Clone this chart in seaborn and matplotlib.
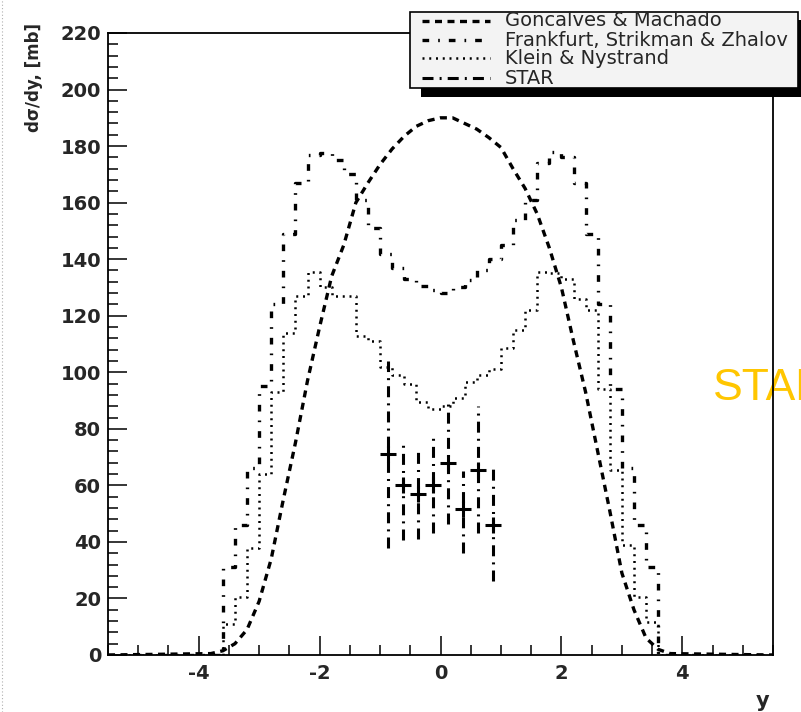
import matplotlib
matplotlib.use("Agg")
import matplotlib.pyplot as plt
from matplotlib.lines import Line2D
from matplotlib.patches import Rectangle
from matplotlib.ticker import MultipleLocator
import seaborn as sns

# --- donnees ---

# Goncalves & Machado (courbe)
gm_y = [-5.5, -3.8, -3.6, -3.4, -3.2, -3.0, -2.8, -2.6, -2.4, -2.2, -2.0, -1.8, -1.6, -1.4,
        -1.2, -1.0, -0.8, -0.6, -0.4, -0.2, 0.0, 0.2, 0.4, 0.6, 0.8, 1.0, 1.2, 1.4, 1.6,
        1.8, 2.0, 2.2, 2.4, 2.6, 2.8, 3.0, 3.2, 3.4, 3.6, 3.8, 5.5]
gm_val = [0, 0.5, 1.5, 4, 9, 19, 34, 55, 75, 97, 116, 134, 145, 160,
          167, 173.5, 179, 183.5, 187, 189, 190, 190, 188, 186, 183, 179.5, 172, 165, 156,
          144, 130, 111, 93, 72, 51, 29, 16, 6, 2, 0.5, 0]

# histogrammes (centres de bins de 0.2)
bins_y = [-5.5, -3.7, -3.5, -3.3, -3.1, -2.9, -2.7, -2.5, -2.3, -2.1, -1.9, -1.7, -1.5, -1.3,
          -1.1, -0.9, -0.7, -0.5, -0.3, -0.1, 0.1, 0.3, 0.5, 0.7, 0.9, 1.1, 1.3, 1.5, 1.7,
          1.9, 2.1, 2.3, 2.5, 2.7, 2.9, 3.1, 3.3, 3.5, 3.7, 5.5]

# Frankfurt, Strikman & Zhalov
fsz_val = [0, 0, 31, 46, 66, 95, 124, 149, 167, 177, 177.5, 175, 170, 161,
           151, 142, 137, 133, 130.5, 129, 128, 130, 132.5, 136, 140, 145, 154, 161, 174,
           178, 176, 167, 149, 124, 94, 66, 46, 31, 0, 0]

# Klein & Nystrand
kn_val = [0, 0, 11, 20.5, 38, 64, 93, 114, 127, 135.5, 130, 127, 127, 113,
          111, 102, 99, 96, 89.5, 87, 88, 91, 96.5, 99, 101, 108.5, 115, 122, 135.5,
          135, 133, 126, 122, 94, 65.5, 39, 20.5, 11.5, 0, 0]

# STAR
star_y = [-0.875, -0.625, -0.375, -0.125, 0.125, 0.375, 0.625, 0.875]
star_val = [71, 60, 57, 60, 68, 51.5, 65.5, 46]
star_hi = [104, 76, 73.5, 77, 89, 65, 88, 66]
star_lo = [38, 40.5, 41, 43, 46.5, 36, 43, 26]

labels = ["Goncalves & Machado", "Frankfurt, Strikman & Zhalov", "Klein & Nystrand", "STAR"]

# styles de ligne facon ROOT
st_gm = dict(lw=2.4, linestyle=(0, (2.1, 1.65)))
st_fsz = dict(lw=2.4, linestyle=(0, (2.0, 2.7, 0.5, 2.7)))
st_kn = dict(lw=1.8, linestyle=(0, (0.8, 1.9)))
st_star = dict(lw=2.2, linestyle=(0, (3.6, 2.0, 0.65, 2.0)))

# --- theme ---
sns.set_theme(style="ticks")
plt.rcParams["font.family"] = ["DejaVu Sans"]
plt.rcParams["axes.unicode_minus"] = False

W, H = 801, 712
fig = plt.figure(figsize=(W / 100, H / 100), dpi=100)
fig.patch.set_facecolor("white")
ax = fig.add_axes([108 / W, 57 / H, 665 / W, 622 / H])
ax.patch.set_alpha(0)

sns.lineplot(x=gm_y, y=gm_val, ax=ax, color="black", **st_gm)
sns.lineplot(x=bins_y, y=fsz_val, ax=ax, color="black", drawstyle="steps-mid", **st_fsz)
sns.lineplot(x=bins_y, y=kn_val, ax=ax, color="black", drawstyle="steps-mid", **st_kn)

yerr = [[v - l for v, l in zip(star_val, star_lo)], [h - v for v, h in zip(star_val, star_hi)]]
eb = ax.errorbar(star_y, star_val, yerr=yerr, fmt="+", color="black", ms=11, mew=2.2,
                 elinewidth=st_star["lw"], capsize=0)
eb[2][0].set_linestyle(st_star["linestyle"])

ax.set_xlim(-5.5, 5.5)
ax.set_ylim(0, 220)
ax.xaxis.set_major_locator(MultipleLocator(2))
ax.xaxis.set_minor_locator(MultipleLocator(0.5))
ax.yaxis.set_major_locator(MultipleLocator(20))
ax.yaxis.set_minor_locator(MultipleLocator(4))
ax.tick_params(which="both", direction="in", top=False, right=False, width=1.1, color="black")
ax.tick_params(which="major", length=14)
ax.tick_params(which="minor", length=7.5)
ax.tick_params(axis="x", pad=6.5, labelsize=14)
ax.tick_params(axis="y", pad=5, labelsize=14)
for lab in ax.get_xticklabels() + ax.get_yticklabels():
    lab.set_fontweight("bold")
for sp in ax.spines.values():
    sp.set_linewidth(1.3)
    sp.set_color("black")
    sp.set_zorder(3)

ax.set_ylabel("d\u03c3/dy, [mb]", fontsize=12, fontweight="bold", loc="top")
ax.yaxis.set_label_coords(-0.097, 1.016)
ax.set_xlabel("y", fontsize=15, fontweight="bold", loc="right")
ax.xaxis.set_label_coords(0.995, -0.058)

# texte STAR jaune (sous le cadre)
fig.text(713 / W, 1 - 400 / H, "STAR", color="#ffc600", fontsize=32,
         family="Liberation Sans", ha="left", va="baseline", zorder=-1)

# bord gauche pointille
fig.add_artist(Line2D([1.5 / W, 1.5 / W], [0, 1], transform=fig.transFigure,
                      color="#b0b0b0", lw=0.8, linestyle=(0, (1, 2))))


# legende facon ROOT avec ombre
def fx(x):
    return x / W


def fy(y):
    return 1 - y / H


fig.add_artist(Rectangle((fx(421), fy(97)), (812 - 421) / W, (97 - 20) / H,
                         transform=fig.transFigure, facecolor="black", edgecolor="none", zorder=5))
fig.add_artist(Rectangle((fx(410), fy(88)), (798 - 410) / W, (88 - 12) / H,
                         transform=fig.transFigure, facecolor="#f3f3f3", edgecolor="black",
                         lw=1.2, zorder=6))
rows = [21, 40, 58, 78]
for lab, st, yy in zip(labels, [st_gm, st_fsz, st_kn, st_star], rows):
    fig.add_artist(Line2D([fx(422), fx(490)], [fy(yy), fy(yy)], transform=fig.transFigure,
                          color="black", zorder=7, **st))
    fig.text(fx(505), fy(yy), lab, fontsize=14, ha="left", va="center", zorder=7)

fig.savefig("out.png", dpi=100)
